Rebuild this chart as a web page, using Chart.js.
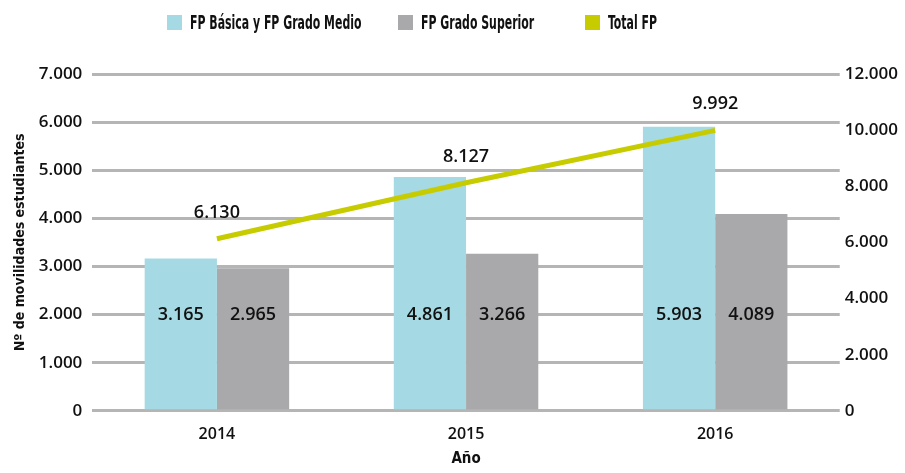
<!DOCTYPE html>
<html>
<head>
<meta charset="utf-8">
<script src="https://cdn.jsdelivr.net/npm/chart.js@4/dist/chart.umd.min.js"></script>
<style>
  html, body { margin: 0; padding: 0; background: #fff; }
  #wrap { position: relative; width: 905px; height: 473px; }
  #legend { position: absolute; left: 0; top: 0; width: 905px; height: 45px; }
  .item { position: absolute; top: 14px; height: 17px; }
  .box { position: absolute; left: 0; top: 1px; width: 15px; height: 15px; }
  .txt { position: absolute; left: 23px; top: -3px; white-space: nowrap;
         font: bold 19px 'DejaVu Sans Condensed', 'DejaVu Sans', sans-serif; color: #111;
         transform: scaleX(0.64); transform-origin: left center; }
</style>
</head>
<body>
<div id="wrap">
  <canvas id="chart" width="905" height="473"></canvas>
  <div id="legend"></div>
</div>
<script>
const years = ["2014", "2015", "2016"];
const basicaMedio = [3165, 4861, 5903];
const superior = [2965, 3266, 4089];
const totalFP = [6130, 8127, 9992];
const leftTicks = [0, 1000, 2000, 3000, 4000, 5000, 6000, 7000];
const rightTicks = [0, 2000, 4000, 6000, 8000, 10000, 12000];

const fmt = v => v.toLocaleString("de-DE");
const narrow = "'DejaVu Sans Condensed', 'DejaVu Sans', sans-serif";
const labelFont = "600 18px 'Open Sans'";

// value labels: bars at a fixed height, line above its points
const valueLabels = {
  id: "valueLabels",
  afterDatasetsDraw(chart) {
    const ctx = chart.ctx;
    const y = chart.scales.y;
    ctx.save();
    ctx.font = labelFont;
    ctx.fillStyle = "#111";
    ctx.textAlign = "center";
    ctx.textBaseline = "middle";
    [0, 1].forEach(i => {
      chart.getDatasetMeta(i).data.forEach((bar, j) => {
        ctx.fillText(fmt(chart.data.datasets[i].data[j]), bar.x, y.getPixelForValue(2000));
      });
    });
    chart.getDatasetMeta(2).data.forEach((pt, j) => {
      ctx.fillText(fmt(totalFP[j]), pt.x, pt.y - 26);
    });
    ctx.restore();
  }
};

const chart = new Chart(document.getElementById("chart"), {
  type: "bar",
  data: {
    labels: years,
    datasets: [
      { label: "FP Básica y FP Grado Medio", data: basicaMedio, backgroundColor: "#a5d9e3", yAxisID: "y", order: 2 },
      { label: "FP Grado Superior", data: superior, backgroundColor: "#a9a9ab", yAxisID: "y", order: 2 },
      { label: "Total FP", type: "line", data: totalFP, borderColor: "#c6cc00", backgroundColor: "#c6cc00",
        borderWidth: 5, pointRadius: 0, yAxisID: "y2", order: 1 }
    ]
  },
  options: {
    responsive: false,
    animation: false,
    layout: { padding: { left: 12, right: 2, top: 74, bottom: 5 } },
    datasets: { bar: { barPercentage: 1, categoryPercentage: 0.58 } },
    plugins: {
      tooltip: { enabled: false },
      legend: { display: false }
    },
    scales: {
      x: {
        grid: { display: false },
        border: { display: false },
        ticks: { color: "#111", font: { family: "'Open Sans'", size: 16, weight: "600" }, padding: 6 },
        title: { display: true, text: "Año", color: "#111", padding: { top: 0, bottom: 0 },
          font: { family: narrow, size: 15, weight: "bold" } }
      },
      y: {
        position: "left", min: 0, max: 7000,
        afterBuildTicks: ax => { ax.ticks = leftTicks.map(v => ({ value: v })); },
        grid: { color: "#b5b5b5", lineWidth: 3, drawTicks: false },
        border: { display: false },
        ticks: { color: "#111", font: { family: "'Open Sans'", size: 17, weight: "600" }, padding: 10, callback: v => fmt(v) },
        title: { display: true, text: "Nº de movilidades estudiantes", color: "#111", padding: { top: 0, bottom: 0 },
          font: { family: narrow, size: 14, weight: "bold" } }
      },
      y2: {
        position: "right", min: 0, max: 12000,
        afterBuildTicks: ax => { ax.ticks = rightTicks.map(v => ({ value: v })); },
        grid: { display: false, drawTicks: false },
        border: { display: false },
        ticks: { color: "#111", font: { family: "'Open Sans'", size: 17, weight: "600" }, padding: 5, callback: v => fmt(v) }
      }
    }
  },
  plugins: [valueLabels]
});

// legend as page text, built from the chart's datasets
const legendX = [167, 398, 585];
const legend = document.getElementById("legend");
chart.data.datasets.forEach((d, i) => {
  const item = document.createElement("div");
  item.className = "item";
  item.style.left = legendX[i] + "px";
  const box = document.createElement("div");
  box.className = "box";
  box.style.background = d.backgroundColor;
  const txt = document.createElement("div");
  txt.className = "txt";
  txt.textContent = d.label;
  item.appendChild(box);
  item.appendChild(txt);
  legend.appendChild(item);
});
</script>
</body>
</html>
